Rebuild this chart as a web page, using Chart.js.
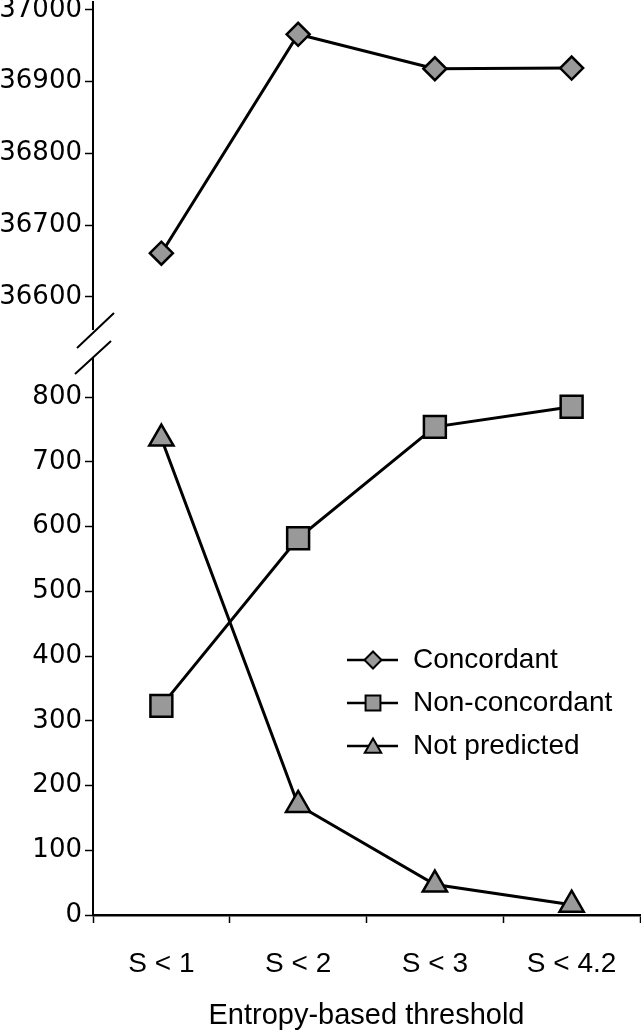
<!DOCTYPE html>
<html>
<head>
<meta charset="utf-8">
<script src="https://cdn.jsdelivr.net/npm/chart.js@4.4.1/dist/chart.umd.min.js"></script>
<style>
  html, body { margin: 0; padding: 0; background: #fff; }
  #wrap { width: 641px; height: 1033px; }
</style>
</head>
<body>
<div id="wrap"><canvas id="chart" width="641" height="1033"></canvas></div>
<script>
// data
const categories = ['S < 1', 'S < 2', 'S < 3', 'S < 4.2'];
const concordant = [36661, 36966, 36918, 36919];
const nonConcordant = [323, 582, 754, 785];
const notPredicted = [736, 170, 47, 16];
const upperTicks = [36600, 36700, 36800, 36900, 37000];
const lowerTicks = [0, 100, 200, 300, 400, 500, 600, 700, 800];

const GREY = '#999999';
const BLACK = '#000000';

function series(label, data, axis, style, radius) {
    return {
        label, data, yAxisID: axis, xAxisID: 'x',
        borderColor: BLACK, borderWidth: 3, tension: 0,
        pointStyle: style, pointRadius: radius,
        pointBackgroundColor: GREY, pointBorderColor: BLACK, pointBorderWidth: 2.5,
        clip: false
    };
}

// y scales sharing the left side, stacked on top of each other
function yScale(min, max, ticks, weight, stackWeight) {
    return {
        type: 'linear', position: 'left', stack: 'left', stackWeight, weight,
        min, max,
        afterBuildTicks: s => { s.ticks = ticks.map(v => ({ value: v })); },
        afterFit: s => { s.width = 93; s.paddingTop = 0; s.paddingBottom = 0; },
        border: { display: true, color: BLACK, width: 2 },
        grid: { drawOnChartArea: false, color: BLACK, tickLength: 8, tickWidth: 1.5 },
        ticks: {
            color: BLACK, padding: 3, callback: v => String(v),
            font: { family: 'DejaVu Sans', size: 26 }
        }
    };
}

// white gap and the two slashes of the broken axis
const axisBreak = {
    id: 'axisBreak',
    afterDraw(chart) {
        const ctx = chart.ctx;
        const x = chart.chartArea.left;
        const yb = chart.scales.yHigh.bottom;
        ctx.save();
        ctx.fillStyle = '#fff';
        ctx.fillRect(x - 6, yb - 14, 12, 28);
        ctx.strokeStyle = BLACK;
        ctx.lineWidth = 2;
        ctx.beginPath();
        ctx.moveTo(x - 16, yb + 4); ctx.lineTo(x + 21, yb - 31);
        ctx.moveTo(x - 18, yb + 30); ctx.lineTo(x + 18, yb - 3);
        ctx.stroke();
        ctx.restore();
    }
};

// legend: line - marker - line, text on the right
const lineLegend = {
    id: 'lineLegend',
    afterDatasetsDraw(chart) {
        const ctx = chart.ctx;
        const sizes = [8.5, 10.5, 9.5];
        ctx.save();
        chart.data.datasets.forEach((ds, i) => {
            const y = 660 + i * 43;
            ctx.strokeStyle = BLACK;
            ctx.lineWidth = 2.5;
            ctx.beginPath();
            ctx.moveTo(347, y); ctx.lineTo(398, y);
            ctx.stroke();
            ctx.fillStyle = GREY;
            ctx.lineWidth = 2;
            Chart.helpers.drawPoint(ctx, { pointStyle: ds.pointStyle, radius: sizes[i], borderWidth: 2, rotation: 0 }, 373, ds.pointStyle === 'triangle' ? y + 2 : y);
            ctx.fillStyle = BLACK;
            ctx.font = '28px "Liberation Sans", Arial, sans-serif';
            ctx.textBaseline = 'middle';
            ctx.textAlign = 'left';
            ctx.fillText(ds.label, 413, y);
        });
        ctx.restore();
    }
};

new Chart(document.getElementById('chart'), {
    type: 'line',
    data: {
        labels: categories,
        datasets: [
            series('Concordant', concordant, 'yHigh', 'rectRot', 11.5),
            series('Non-concordant', nonConcordant, 'yLow', 'rect', 15.5),
            series('Not predicted', notPredicted, 'yLow', 'triangle', 14)
        ]
    },
    options: {
        responsive: false,
        devicePixelRatio: 1,
        animation: false,
        layout: { autoPadding: false, padding: { top: 2, right: 1, left: 0, bottom: 0 } },
        plugins: { legend: { display: false }, tooltip: { enabled: false } },
        scales: {
            x: {
                type: 'category', offset: true,
                afterFit: s => { s.height = 118; s.paddingLeft = 0; s.paddingRight = 0; },
                border: { display: true, color: BLACK, width: 2.5 },
                grid: { offset: true, drawOnChartArea: false, color: BLACK, tickLength: 8, tickWidth: 1.5 },
                ticks: { color: BLACK, padding: 24, maxRotation: 0, font: { family: 'Liberation Sans', size: 28 } },
                title: {
                    display: true, text: 'Entropy-based threshold', color: BLACK,
                    padding: { top: 0, bottom: 0 },
                    font: { family: 'Liberation Sans', size: 29 }
                }
            },
            yLow: yScale(0, 882, lowerTicks, 0, 571),
            yHigh: yScale(36534.5, 37011, upperTicks, 1, 342)
        }
    },
    plugins: [axisBreak, lineLegend]
});
</script>
</body>
</html>
